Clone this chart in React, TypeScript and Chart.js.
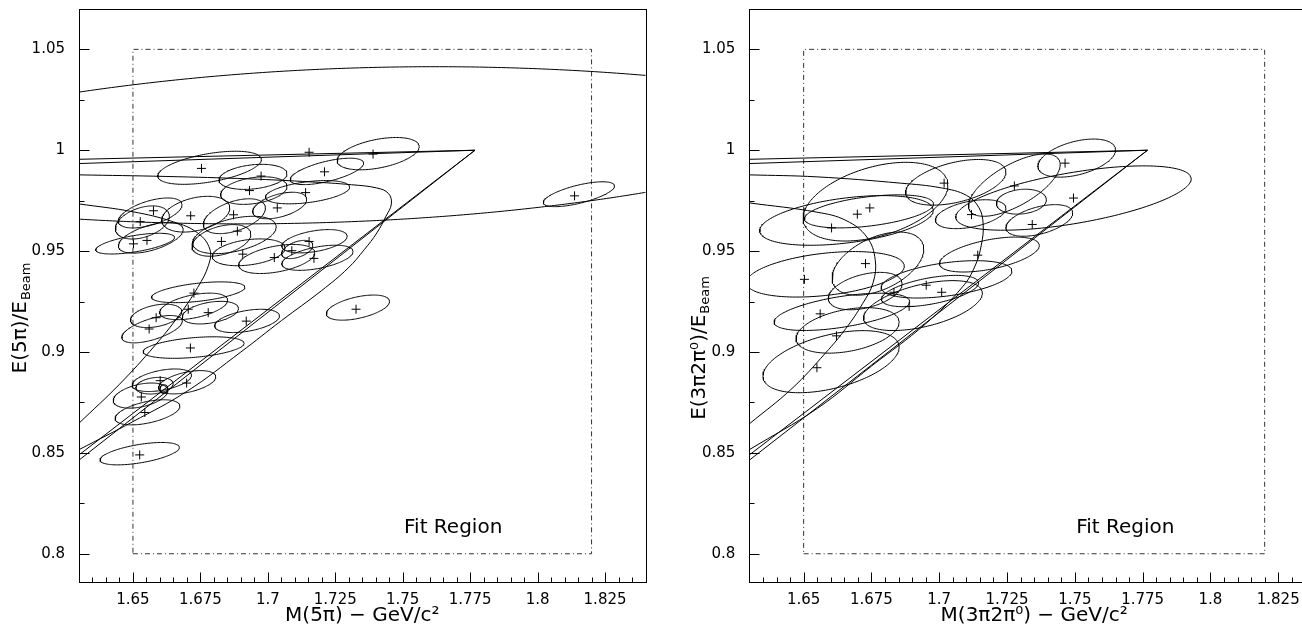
import React, { useEffect, useRef } from 'react';
import { Chart, registerables } from 'chart.js';
Chart.register(...registerables);

const X_MIN = 1.63;
const X_MAX = 1.84;
const Y_MIN = 0.786;
const Y_MAX = 1.07;
const xMajorTicks = [1.65, 1.675, 1.7, 1.725, 1.75, 1.775, 1.8, 1.825];
const yMajorTicks = [0.8, 0.85, 0.9, 0.95, 1.0, 1.05];
const xMinorStep = 0.005;
const yMinorStep = 0.025;
const fitRegionX = [1.65, 1.82];
const fitRegionY = [0.8, 1.05];
const fitLabel = 'Fit Region';
const fitLabelPos = [1.7505, 0.813];

// kinematic wedge: lines from the left edge to a common apex
const wedgeApex = [1.7768, 1.0];
const wedgeLeftY = [0.9955, 0.9934, 0.849, 0.8464];

// ---- left panel (5 pi) ----
const leftPtsX = [1.7153, 1.739, 1.6754, 1.721, 1.6975, 1.6932, 1.714, 1.8137, 1.7035, 1.6576, 1.6714, 1.6873, 1.6527, 1.6887, 1.6828, 1.6552, 1.6502, 1.7153, 1.6907, 1.7089, 1.7024, 1.7171, 1.6726, 1.6705, 1.6779, 1.6586, 1.656, 1.692, 1.7327, 1.6713, 1.6601, 1.6699, 1.6531, 1.6544, 1.6525];
const leftPtsY = [0.999, 0.9981, 0.991, 0.9893, 0.9872, 0.98, 0.979, 0.9774, 0.9714, 0.97, 0.9675, 0.968, 0.9646, 0.9599, 0.9548, 0.9553, 0.9536, 0.9548, 0.9485, 0.9502, 0.9468, 0.9464, 0.9292, 0.9212, 0.9195, 0.917, 0.9114, 0.9153, 0.9212, 0.902, 0.8858, 0.8846, 0.8777, 0.87, 0.849];
// error ellipses: [cx, cy, half-width, half-height at centre, y-offset of rightmost point]
const leftEllipses = [
  [1.6784, 0.9913, 0.0192, 0.0071, 0.0041],
  [1.6945, 0.9868, 0.0126, 0.006, 0.0016],
  [1.6948, 0.98, 0.0123, 0.0065, 0.0021],
  [1.7219, 0.9895, 0.0136, 0.0051, 0.0041],
  [1.7409, 0.9983, 0.0152, 0.0072, 0.0035],
  [1.7147, 0.9792, 0.0156, 0.0052, 0.0025],
  [1.7044, 0.9726, 0.01, 0.0058, 0.0031],
  [1.8153, 0.9782, 0.0132, 0.0046, 0.0041],
  [1.6564, 0.9689, 0.0118, 0.0062, 0.0041],
  [1.6733, 0.9683, 0.0126, 0.0083, 0.0031],
  [1.6876, 0.9673, 0.0115, 0.0076, 0.0041],
  [1.6535, 0.9642, 0.01, 0.0076, 0.0031],
  [1.6566, 0.9566, 0.012, 0.0064, 0.0041],
  [1.6508, 0.9537, 0.0146, 0.0041, 0.0031],
  [1.6828, 0.9553, 0.0109, 0.0072, 0.0031],
  [1.6876, 0.958, 0.0155, 0.0083, 0.0041],
  [1.6929, 0.9494, 0.0135, 0.0063, 0.0021],
  [1.7033, 0.9461, 0.0141, 0.0065, 0.0031],
  [1.7173, 0.9549, 0.0121, 0.0052, 0.0025],
  [1.7109, 0.9508, 0.0058, 0.004, 0.0021],
  [1.7184, 0.9467, 0.0132, 0.0054, 0.0031],
  [1.6742, 0.9296, 0.0173, 0.0045, 0.0025],
  [1.6725, 0.9226, 0.0126, 0.0058, 0.0031],
  [1.6787, 0.9195, 0.0104, 0.0052, 0.0021],
  [1.6586, 0.9179, 0.0095, 0.0054, 0.0021],
  [1.6571, 0.9113, 0.0112, 0.0054, 0.0041],
  [1.6923, 0.9154, 0.012, 0.0052, 0.0025],
  [1.7334, 0.922, 0.0117, 0.0054, 0.0031],
  [1.6725, 0.9022, 0.0187, 0.0049, 0.0021],
  [1.6607, 0.886, 0.011, 0.005, 0.0025],
  [1.6701, 0.885, 0.0106, 0.0051, 0.0027],
  [1.658, 0.8833, 0.0069, 0.004, 0.001],
  [1.6615, 0.8816, 0.0015, 0.0022, 0.0],
  [1.6528, 0.8784, 0.0101, 0.0057, 0.0025],
  [1.6554, 0.8701, 0.012, 0.0054, 0.0031],
  [1.6525, 0.8496, 0.0147, 0.0046, 0.0031],
];
const leftWideEllipses = [
  [1.762, 0.8414, 0.378, 0.2, 0.0],
  [1.69, 1.0835, 0.304, 0.12, 0.0],
];
const leftCurveAX = [1.63, 1.6623, 1.693, 1.716, 1.731, 1.7404, 1.7447, 1.7458, 1.7438, 1.7404, 1.7358, 1.7297, 1.72, 1.705, 1.69, 1.67, 1.65, 1.63];
const leftCurveAY = [0.9878, 0.987, 0.9858, 0.9843, 0.9829, 0.9813, 0.9786, 0.9734, 0.9673, 0.959, 0.9508, 0.9415, 0.9305, 0.9155, 0.9, 0.8805, 0.8655, 0.8516];
const leftCurveBX = [1.63, 1.65, 1.665, 1.674, 1.6785, 1.678, 1.674, 1.667, 1.658, 1.645, 1.63];
const leftCurveBY = [0.9734, 0.9695, 0.9645, 0.959, 0.951, 0.943, 0.932, 0.918, 0.903, 0.884, 0.8647];

// ---- right panel (3 pi 2 pi0) ----
const rightPtsX = [1.7464, 1.7277, 1.7018, 1.7495, 1.6698, 1.6744, 1.7119, 1.6603, 1.7343, 1.7142, 1.6728, 1.6503, 1.6952, 1.7009, 1.6833, 1.6889, 1.6561, 1.6621, 1.6549];
const rightPtsY = [0.9936, 0.9823, 0.9837, 0.9763, 0.9683, 0.9714, 0.9681, 0.9615, 0.9632, 0.948, 0.9438, 0.936, 0.9331, 0.9296, 0.9296, 0.9226, 0.9189, 0.908, 0.8922];
const rightEllipses = [
  [1.7507, 0.9961, 0.0143, 0.0085, 0.0041],
  [1.7495, 0.9763, 0.0434, 0.0128, 0.0095],
  [1.7277, 0.9827, 0.0169, 0.0115, 0.0103],
  [1.7061, 0.9841, 0.0185, 0.0101, 0.0051],
  [1.7303, 0.9745, 0.0092, 0.0061, 0.001],
  [1.7369, 0.9652, 0.0123, 0.0069, 0.0037],
  [1.7116, 0.9683, 0.013, 0.0065, 0.003],
  [1.6765, 0.9745, 0.0267, 0.0177, 0.0082],
  [1.6741, 0.9697, 0.0238, 0.0073, 0.0037],
  [1.6658, 0.9652, 0.032, 0.0112, 0.0051],
  [1.6774, 0.9438, 0.0169, 0.0139, 0.0072],
  [1.658, 0.9385, 0.0291, 0.0105, 0.0041],
  [1.7185, 0.9483, 0.0184, 0.0074, 0.0045],
  [1.7027, 0.936, 0.0241, 0.0083, 0.0041],
  [1.6966, 0.9302, 0.0179, 0.0066, 0.0041],
  [1.6727, 0.9302, 0.0136, 0.0085, 0.0037],
  [1.694, 0.923, 0.0219, 0.0107, 0.0062],
  [1.6641, 0.9199, 0.025, 0.0077, 0.0051],
  [1.6662, 0.9107, 0.019, 0.0105, 0.0041],
  [1.6601, 0.8952, 0.0251, 0.0136, 0.0072],
];
const rightWideEllipses: number[][] = [];
const rightCurveAX = [1.63, 1.6549, 1.6856, 1.7009, 1.7101, 1.7147, 1.7162, 1.7155, 1.7132, 1.7086, 1.695, 1.675, 1.655, 1.63];
const rightCurveAY = [0.9878, 0.9868, 0.9837, 0.9813, 0.9776, 0.9714, 0.9632, 0.9529, 0.9426, 0.9323, 0.914, 0.893, 0.872, 0.8516];
const rightCurveBX = [1.63, 1.6549, 1.6656, 1.6733, 1.6764, 1.6756, 1.6718, 1.6656, 1.658, 1.6457, 1.63];
const rightCurveBY = [0.9739, 0.9693, 0.9652, 0.957, 0.9457, 0.9343, 0.9241, 0.9117, 0.8994, 0.8819, 0.8644];

const FONT = '"DejaVu Sans", sans-serif';

function ellipsePoints(e: number[], n: number) {
  const [cx, cy, a, b, c] = e;
  const pts = [] as { x: number; y: number }[];
  for (let i = 0; i <= n; i++) {
    const t = (2 * Math.PI * i) / n;
    pts.push({ x: cx + a * Math.cos(t), y: cy + c * Math.cos(t) + b * Math.sin(t) });
  }
  return pts;
}

const zip = (xs: number[], ys: number[]) => xs.map((x, i) => ({ x, y: ys[i] }));

const lineDs = (data: any[], extra: any = {}) => ({
  type: 'line',
  data,
  showLine: true,
  borderColor: '#000',
  borderWidth: 1,
  pointRadius: 0,
  fill: false,
  tension: 0,
  ...extra,
});

interface Panel {
  pts: [number[], number[]];
  ellipses: number[][];
  wide: number[][];
  curves: [number[], number[]][];
  xTitle: string;
  yMain: string;
  yTitleX: number;
  yTitleY: number;
  areaLeft: number;
  areaRight: number;
  width: number;
}

function makeConfig(p: Panel): any {
  const datasets: any[] = [];
  p.ellipses.forEach((e) => datasets.push(lineDs(ellipsePoints(e, 160))));
  p.wide.forEach((e) => datasets.push(lineDs(ellipsePoints(e, 1440))));
  p.curves.forEach(([xs, ys]) => datasets.push(lineDs(zip(xs, ys), { tension: 0.4 })));
  wedgeLeftY.forEach((y) => datasets.push(lineDs([{ x: X_MIN, y }, { x: wedgeApex[0], y: wedgeApex[1] }])));
  datasets.push(
    lineDs(
      [
        { x: fitRegionX[0], y: fitRegionY[0] },
        { x: fitRegionX[1], y: fitRegionY[0] },
        { x: fitRegionX[1], y: fitRegionY[1] },
        { x: fitRegionX[0], y: fitRegionY[1] },
        { x: fitRegionX[0], y: fitRegionY[0] },
      ],
      { borderDash: [5, 3, 1, 3], borderColor: '#333' }
    )
  );
  datasets.push({
    type: 'scatter',
    data: zip(p.pts[0], p.pts[1]),
    pointStyle: 'cross',
    pointRadius: 4.5,
    borderColor: '#000',
    borderWidth: 1,
    showLine: false,
  });

  const fmt = (v: number) => String(parseFloat(Number(v).toFixed(3)));

  const framePlugin = {
    id: 'frame',
    afterDraw(chart: any) {
      const { ctx, chartArea: ca } = chart;
      const xs = chart.scales.x;
      const ys = chart.scales.y;
      ctx.save();
      ctx.strokeStyle = '#000';
      ctx.lineWidth = 1;
      const L = Math.round(ca.left) + 0.5;
      const R = Math.round(ca.right) + 0.5;
      const T = Math.round(ca.top) + 0.5;
      const B = Math.round(ca.bottom) + 0.5;
      ctx.strokeRect(L, T, R - L, B - T);
      ctx.beginPath();
      const nx = Math.round((X_MAX - X_MIN) / xMinorStep);
      for (let i = 1; i < nx; i++) {
        const v = X_MIN + i * xMinorStep;
        const major = xMajorTicks.some((m) => Math.abs(m - v) < 1e-6);
        const px = Math.round(xs.getPixelForValue(v)) + 0.5;
        ctx.moveTo(px, B);
        ctx.lineTo(px, B - (major ? 10 : 5));
      }
      const ny0 = Math.ceil(Y_MIN / yMinorStep);
      for (let k = ny0; k * yMinorStep < Y_MAX; k++) {
        const v = k * yMinorStep;
        const major = yMajorTicks.some((m) => Math.abs(m - v) < 1e-6);
        const py = Math.round(ys.getPixelForValue(v)) + 0.5;
        ctx.moveTo(L, py);
        ctx.lineTo(L + (major ? 10 : 5), py);
      }
      ctx.stroke();

      ctx.fillStyle = '#000';
      ctx.font = '20px ' + FONT;
      ctx.textAlign = 'left';
      ctx.textBaseline = 'middle';
      ctx.fillText(fitLabel, xs.getPixelForValue(fitLabelPos[0]), ys.getPixelForValue(fitLabelPos[1]));

      ctx.font = '20px ' + FONT;
      ctx.textAlign = 'center';
      ctx.textBaseline = 'middle';
      ctx.fillText(p.xTitle, (ca.left + ca.right) / 2, 616);

      ctx.translate(p.yTitleX, p.yTitleY);
      ctx.rotate(-Math.PI / 2);
      ctx.font = '20px ' + FONT;
      const w1 = ctx.measureText(p.yMain).width;
      ctx.font = '13px ' + FONT;
      const w2 = ctx.measureText('Beam').width;
      const start = -(w1 + w2 + 1) / 2;
      ctx.textAlign = 'left';
      ctx.textBaseline = 'alphabetic';
      ctx.font = '20px ' + FONT;
      ctx.fillText(p.yMain, start, 7);
      ctx.font = '13px ' + FONT;
      ctx.fillText('Beam', start + w1 + 1, 11);
      ctx.restore();
    },
  };

  const noPad = (s: any) => {
    s.paddingTop = 0;
    s.paddingBottom = 0;
    s.paddingLeft = 0;
    s.paddingRight = 0;
  };

  return {
    type: 'scatter',
    data: { datasets },
    options: {
      animation: false,
      responsive: false,
      events: [],
      layout: { padding: { left: 0, right: p.width - p.areaRight, top: 9, bottom: 0 } },
      plugins: { legend: { display: false }, tooltip: { enabled: false } },
      scales: {
        x: {
          type: 'linear',
          min: X_MIN,
          max: X_MAX,
          grid: { display: false, drawTicks: false },
          border: { display: false },
          ticks: {
            color: '#000',
            font: { family: FONT, size: 15 },
            padding: 9,
            maxRotation: 0,
            autoSkip: false,
            callback: (v: number) => fmt(v),
          },
          afterBuildTicks: (s: any) => {
            s.ticks = xMajorTicks.map((v) => ({ value: v }));
          },
          afterFit: (s: any) => {
            s.height = 51;
            noPad(s);
          },
        },
        y: {
          type: 'linear',
          min: Y_MIN,
          max: Y_MAX,
          grid: { display: false, drawTicks: false },
          border: { display: false },
          ticks: {
            color: '#000',
            font: { family: FONT, size: 15 },
            padding: 14,
            autoSkip: false,
            callback: (v: number) => fmt(v),
          },
          afterBuildTicks: (s: any) => {
            s.ticks = yMajorTicks.map((v) => ({ value: v }));
          },
          afterFit: (s: any) => {
            s.width = p.areaLeft;
            noPad(s);
          },
        },
      },
    },
    plugins: [framePlugin],
  };
}

const leftPanel: Panel = {
  pts: [leftPtsX, leftPtsY],
  ellipses: leftEllipses,
  wide: leftWideEllipses,
  curves: [
    [leftCurveAX, leftCurveAY],
    [leftCurveBX, leftCurveBY],
  ],
  xTitle: 'M(5π) − GeV/c²',
  yMain: 'E(5π)/E',
  yTitleX: 19,
  yTitleY: 318,
  areaLeft: 79,
  areaRight: 648.5,
  width: 651,
};

const rightPanel: Panel = {
  pts: [rightPtsX, rightPtsY],
  ellipses: rightEllipses,
  wide: rightWideEllipses,
  curves: [
    [rightCurveAX, rightCurveAY],
    [rightCurveBX, rightCurveBY],
  ],
  xTitle: 'M(3π2π⁰) − GeV/c²',
  yMain: 'E(3π2π⁰)/E',
  yTitleX: 47,
  yTitleY: 348,
  areaLeft: 98.4,
  areaRight: 667.9,
  width: 700,
};

function PanelChart({ panel, left }: { panel: Panel; left: number }) {
  const ref = useRef<HTMLCanvasElement>(null);
  useEffect(() => {
    if (!ref.current) return;
    const chart = new Chart(ref.current, makeConfig(panel));
    return () => chart.destroy();
  }, [panel]);
  return (
    <canvas
      ref={ref}
      width={panel.width}
      height={633}
      style={{ position: 'absolute', left, top: 0, width: panel.width, height: 633 }}
    />
  );
}

export default function App() {
  return (
    <div
      style={{
        position: 'fixed',
        left: 0,
        top: 0,
        width: 1302,
        height: 633,
        overflow: 'hidden',
        background: '#fff',
      }}
    >
      <PanelChart panel={leftPanel} left={0} />
      <PanelChart panel={rightPanel} left={651} />
    </div>
  );
}
